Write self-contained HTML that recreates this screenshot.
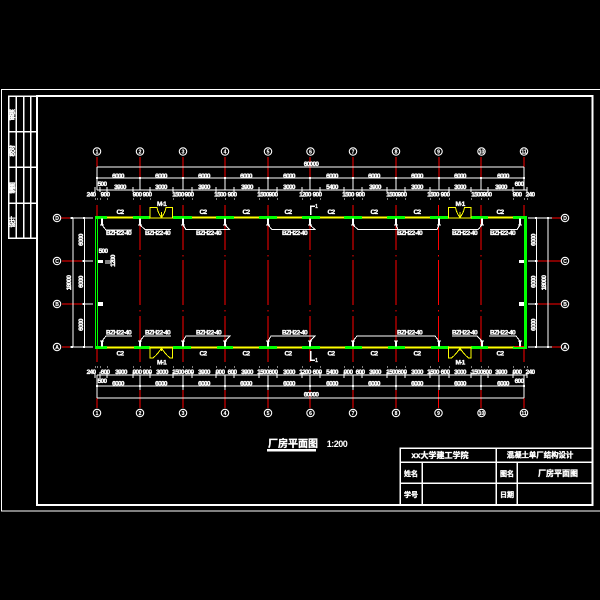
<!DOCTYPE html>
<html><head><meta charset="utf-8"><style>
html,body{margin:0;padding:0;background:#000}
svg{display:block}
path,rect{shape-rendering:crispEdges}
text{font-family:"Liberation Sans","Noto Sans CJK SC",sans-serif;fill:#fff}
.d{font-size:6.5px;font-weight:700;letter-spacing:-.7px;text-anchor:middle;stroke:#fff;stroke-width:.35}
.n{font-size:5px;text-anchor:middle;font-weight:700;stroke:#fff;stroke-width:.15}
.c{font-size:6.5px;font-weight:700;letter-spacing:-.6px;stroke:#fff;stroke-width:.35}
.t{font-size:9.5px;font-weight:700;text-anchor:middle;stroke:#fff;stroke-width:.35}
circle{fill:#000;stroke:#fff;stroke-width:1.1}
</style></head><body>
<svg width="600" height="600" viewBox="0 0 600 600" xmlns="http://www.w3.org/2000/svg">
<rect width="600" height="600" fill="#000"/>
<!-- frames -->
<path d="M1.5 600M600 89.500H1.500V511H600" fill="none" stroke="#fff" stroke-width="1"/>
<path d="M37 505V96H592.500V505Z" fill="none" stroke="#fff" stroke-width="2"/>
<path d="M37 96H8.500V238H37M16 96V238M23.500 96V238M30.500 96V238M8.500 131.500H37M8.500 167H37M8.500 203H37" fill="none" stroke="#fff" stroke-width="1.500"/>
<text class="c" style="font-size:6px" transform="rotate(-90 14.500 114)" x="8" y="114">审核</text>
<text class="c" style="font-size:6px" transform="rotate(-90 14.500 150)" x="8" y="150">校对</text>
<text class="c" style="font-size:6px" transform="rotate(-90 14.500 187)" x="8" y="187">制图</text>
<text class="c" style="font-size:6px" transform="rotate(-90 14.500 221)" x="8" y="221">设计</text>

<!-- red grid -->
<g stroke="#f00" stroke-width="1.100" fill="none">
<path d="M97 157V167M140 157V178M183 157V178M225 157V178M268 157V178M310 157V178M353 157V178M396 157V178M439 157V178M481 157V178M524 157V167"/>
<path d="M97 205V216M524 205V216M97 348V362M524 348V362M97 398V408M524 398V408"/>
<path d="M140 205V250M140 255V256.500M140 260V305M140 310V311.500M140 316V362M140 390V408"/>
<path d="M183 205V250M183 255V256.500M183 260V305M183 310V311.500M183 316V362M183 390V408"/>
<path d="M225 205V250M225 255V256.500M225 260V305M225 310V311.500M225 316V362M225 390V408"/>
<path d="M268 205V250M268 255V256.500M268 260V305M268 310V311.500M268 316V362M268 390V408"/>
<path d="M310 218V250M310 255V256.500M310 260V305M310 310V311.500M310 316V362M310 390V408"/>
<path d="M353 205V250M353 255V256.500M353 260V305M353 310V311.500M353 316V362M353 390V408"/>
<path d="M396 205V250M396 255V256.500M396 260V305M396 310V311.500M396 316V362M396 390V408"/>
<path d="M438.500 205V250M438.500 255V256.500M438.500 260V305M438.500 310V311.500M438.500 316V362M438.500 390V408"/>
<path d="M481 205V250M481 255V256.500M481 260V305M481 310V311.500M481 316V362M481 390V408"/>
<path d="M61 218H70M62 261H82M62 304H82M62 347H70M552 218H561M538 261H561M538 304H561M552 347H561"/>
</g>

<!-- dimension lines -->
<g stroke="#fff" stroke-width="1" fill="none">
<path d="M97 167H524M97 178H524M97 190H527M97 375H527M97 386H524M97 398H524"/>
<path d="M97 167V190M524 167V190M140 178V190M183 178V190M225 178V190M268 178V190M310 178V190M353 178V190M396 178V190M439 178V190M481 178V190"/>
<path d="M97 375V398M524 375V398M140 375V390M183 375V390M225 375V390M268 375V390M310 375V390M353 375V390M396 375V390M439 375V390M481 375V390"/>
<path d="M95 187v5M100 187v5M107 187v5M133 187v5M150 187v5M173 187v5M192 187v5M216 187v5M234 187v5M259 187v5M277 187v5M302 187v5M320 187v5M344 187v5M362 187v5M387 187v5M405 187v5M430 187v5M449 187v5M471 187v5M488 187v5M513 187v5M527 187v5"/>
<path d="M95 372v6M100 372v6M107 372v6M133 372v6M150 372v6M173 372v6M192 372v6M216 372v6M234 372v6M259 372v6M277 372v6M302 372v6M320 372v6M344 372v6M362 372v6M387 372v6M405 372v6M430 372v6M449 372v6M471 372v6M488 372v6M513 372v6M527 372v6"/>
<path d="M95 199h1M97 199h1M100 199h1M107 199h1M133 199h1M140 199h1M150 199h1M173 199h1M183 199h1M192 199h1M216 199h1M225 199h1M234 199h1M259 199h1M268 199h1M277 199h1M302 199h1M310 199h1M320 199h1M344 199h1M353 199h1M362 199h1M387 199h1M396 199h1M405 199h1M430 199h1M439 199h1M449 199h1M471 199h1M481 199h1M488 199h1M513 199h1M524 199h1M527 199h1"/>
<path d="M95 367h1M97 367h1M100 367h1M107 367h1M133 367h1M140 367h1M150 367h1M173 367h1M183 367h1M192 367h1M216 367h1M225 367h1M234 367h1M259 367h1M268 367h1M277 367h1M302 367h1M310 367h1M320 367h1M344 367h1M353 367h1M362 367h1M387 367h1M396 367h1M405 367h1M430 367h1M439 367h1M449 367h1M471 367h1M481 367h1M488 367h1M513 367h1M524 367h1M527 367h1"/>
<path d="M73 218V347M84.500 218V347M536.700 218V347M548 218V347"/>
<path d="M70 218H93M82 261H93M82 304H93M70 347H93M528 218H552M528 261H538M528 304H538M528 347H552"/>
<path d="M105 261H113M105 263H112"/>
</g>
<g stroke="#fff" stroke-width="2" fill="none">
<path d="M97 177v2M140 177v2M183 177v2M225 177v2M268 177v2M310 177v2M353 177v2M396 177v2M439 177v2M481 177v2M524 177v2M140 385v2M183 385v2M225 385v2M268 385v2M310 385v2M353 385v2M396 385v2M439 385v2M481 385v2M524 385v2M97 385v2"/>
<path d="M72 217v2M72 346v2M84 217v2M84 260v2M84 303v2M84 346v2M536 217v2M536 260v2M536 303v2M536 346v2M548 217v2M548 346v2"/>
</g>

<!-- walls -->
<path d="M107 217.500H513M107 347.500H513" stroke="#ff0" stroke-width="2" fill="none"/>
<g stroke="#0f0" stroke-width="3" fill="none">
<path d="M95 217.500H107M133 217.500H150M173 217.500H192M216 217.500H234M259 217.500H277M302 217.500H320M344 217.500H362M387 217.500H405M430 217.500H449M471 217.500H488M513 217.500H527"/>
<path d="M95 347.500H107M134 347.500H150M173 347.500H191M217 347.500H233M259 347.500H277M302 347.500H320M345 347.500H362M388 347.500H405M431 347.500H449M471 347.500H488M513 347.500H527"/>
<path d="M525.500 216V349"/>
</g>
<path d="M95.500 216V348M97.500 218V346" stroke="#0f0" stroke-width="1" fill="none"/>
<rect x="150.500" y="216" width="22" height="3" fill="#000"/><rect x="448.500" y="216" width="22" height="3" fill="#000"/>
<g stroke="#ff0" stroke-width="1" fill="none">
<path d="M150 218V207.500H157Q158 213 161.500 217.500Q165 213 166 207.500H172.700V218ZM161.500 217.500V212"/>
<path d="M448.500 218V207.500H455.500Q456.500 213 460 217.500Q463.500 213 464.500 207.500H471V218ZM460 217.500V212"/>
<path d="M150 347V358H153Q158 354 161.500 348Q165 354 170 358H172.700V347ZM161.500 348V351"/>
<path d="M448.500 347V358H451.500Q456.500 354 460 348Q463.500 354 468.500 358H471V347ZM460 348V351"/>
</g>
<path d="M514 346.500H524" stroke="#f00" stroke-width="1" fill="none"/>

<!-- columns -->
<g stroke="#fff" fill="none">
<path stroke-width="2" d="M102 218.500v6.500M140 218.500v6.500M183 218.500v6.500M225 218.500v6.500M268 218.500v6.500M310 218.500v6.500M353 218.500v6.500M396 218.500v6.500M439 218.500v6.500M482 218.500v6.500M520 218.500v6.500M102 340.500v6M140 340.500v6M183 340.500v6M225 340.500v6M268 340.500v6M310 340.500v6M353 340.500v6M396 340.500v6M439 340.500v6M482 340.500v6M520 340.500v6"/>
<path stroke-width="1.200" d="M100 225h4M138 225h4M181 225h4M223 225h4M266 225h4M308 225h4M351 225h4M394 225h4M437 225h4M480 225h4M518 225h4M100 341h4M138 341h4M181 341h4M223 341h4M266 341h4M308 341h4M351 341h4M394 341h4M437 341h4M480 341h4M518 341h4"/>
<path stroke-width="1" d="M102 225L106 230H132M140 225L145 229.500H171M183 225L186 229.500H229.500L225 225M268 225L272 229.500H315L310 225M353 225L358 229.500H437L439 225M396 225L398 229.500M452 229.500H478L482 225M490 229.500H517L520 225"/>
<path stroke-width="1" d="M102 341L106 336H132M140 341L144 336H171M183 341L186 336H230L225 341M268 341L271 336H315L310 341M353 341L357 336H435L439 341M452 336H477L482 341M489 336H516L520 341"/>
</g>
<g class="c">
<text class="c" x="106" y="235">BZH22-40</text><text class="c" x="145" y="235">BZH22-40</text><text class="c" x="196" y="235">BZH22-40</text><text class="c" x="282" y="235">BZH22-40</text><text class="c" x="397" y="235">BZH22-40</text><text class="c" x="452" y="235">BZH22-40</text><text class="c" x="490" y="235">BZH22-40</text>
<text class="c" x="106" y="334.500">BZH22-40</text><text class="c" x="145" y="334.500">BZH22-40</text><text class="c" x="196" y="334.500">BZH22-40</text><text class="c" x="282" y="334.500">BZH22-40</text><text class="c" x="397" y="334.500">BZH22-40</text><text class="c" x="452" y="334.500">BZH22-40</text><text class="c" x="490" y="334.500">BZH22-40</text>
</g>

<!-- door, wall labels -->
<text class="d" x="161.500" y="206">M-1</text><text class="d" x="460" y="206">M-1</text><text class="d" x="161.500" y="364.500">M-1</text><text class="d" x="460" y="364.500">M-1</text>
<g class="d">
<text class="d" x="120" y="214">C2</text><text class="d" x="203" y="214">C2</text><text class="d" x="246" y="214">C2</text><text class="d" x="288" y="214">C2</text><text class="d" x="331" y="214">C2</text><text class="d" x="374" y="214">C2</text><text class="d" x="417" y="214">C2</text><text class="d" x="500" y="214">C2</text>
<text class="d" x="120" y="355.500">C2</text><text class="d" x="203" y="355.500">C2</text><text class="d" x="246" y="355.500">C2</text><text class="d" x="288" y="355.500">C2</text><text class="d" x="331" y="355.500">C2</text><text class="d" x="374" y="355.500">C2</text><text class="d" x="417" y="355.500">C2</text><text class="d" x="500" y="355.500">C2</text>
</g>
<path d="M315 206H310.500V215M310.500 351V360H315" stroke="#fff" stroke-width="1.500" fill="none"/>
<text class="n" x="316.500" y="208">1</text><text class="n" x="316.500" y="362">1</text>

<!-- top dims -->
<text class="d" x="311" y="166">60000</text>
<text class="d" x="118" y="178">6000</text><text class="d" x="161" y="178">6000</text><text class="d" x="204" y="178">6000</text><text class="d" x="246" y="178">6000</text><text class="d" x="289" y="178">6000</text><text class="d" x="332" y="178">6000</text><text class="d" x="374" y="178">6000</text><text class="d" x="417" y="178">6000</text><text class="d" x="460" y="178">6000</text><text class="d" x="503" y="178">6000</text>
<text class="d" x="102" y="186">500</text><text class="d" x="519" y="186">600</text>
<text class="d" x="120" y="189">3900</text><text class="d" x="161" y="189">3000</text><text class="d" x="204" y="189">3900</text><text class="d" x="247" y="189">3900</text><text class="d" x="289" y="189">3000</text><text class="d" x="332" y="189">5400</text><text class="d" x="375" y="189">3900</text><text class="d" x="417" y="189">3000</text><text class="d" x="460" y="189">3000</text><text class="d" x="501" y="189">3900</text>
<text class="d" x="91" y="196.500">240</text><text class="d" x="105" y="196.500">900</text><text class="d" x="137" y="196.500">900</text><text class="d" x="147" y="196.500">900</text><text class="d" x="178" y="196.500">1500</text><text class="d" x="189" y="196.500">900</text><text class="d" x="220" y="196.500">1500</text><text class="d" x="232" y="196.500">900</text><text class="d" x="263" y="196.500">1500</text><text class="d" x="273" y="196.500">900</text><text class="d" x="305" y="196.500">1200</text><text class="d" x="317" y="196.500">900</text><text class="d" x="348" y="196.500">1500</text><text class="d" x="360" y="196.500">900</text><text class="d" x="392" y="196.500">1500</text><text class="d" x="402" y="196.500">900</text><text class="d" x="433" y="196.500">1500</text><text class="d" x="445" y="196.500">900</text><text class="d" x="477" y="196.500">1500</text><text class="d" x="487" y="196.500">900</text><text class="d" x="517" y="196.500">900</text><text class="d" x="530" y="196.500">240</text>

<!-- bottom dims -->
<text class="d" x="91" y="374">240</text><text class="d" x="105" y="374">600</text><text class="d" x="121" y="374">3900</text><text class="d" x="137" y="374">900</text><text class="d" x="147" y="374">900</text><text class="d" x="162" y="374">3000</text><text class="d" x="178" y="374">1500</text><text class="d" x="189" y="374">600</text><text class="d" x="204" y="374">3900</text><text class="d" x="220" y="374">900</text><text class="d" x="232" y="374">600</text><text class="d" x="247" y="374">3900</text><text class="d" x="263" y="374">1500</text><text class="d" x="273" y="374">600</text><text class="d" x="289" y="374">3000</text><text class="d" x="305" y="374">1200</text><text class="d" x="317" y="374">600</text><text class="d" x="332" y="374">5400</text><text class="d" x="348" y="374">900</text><text class="d" x="360" y="374">600</text><text class="d" x="375" y="374">3900</text><text class="d" x="392" y="374">1500</text><text class="d" x="402" y="374">600</text><text class="d" x="417" y="374">3000</text><text class="d" x="433" y="374">1500</text><text class="d" x="445" y="374">600</text><text class="d" x="460" y="374">3000</text><text class="d" x="477" y="374">1500</text><text class="d" x="487" y="374">600</text><text class="d" x="501" y="374">3900</text><text class="d" x="517" y="374">900</text><text class="d" x="530" y="374">240</text>
<text class="d" x="102" y="383">500</text><text class="d" x="519" y="383">600</text>
<text class="d" x="118" y="385.500">6000</text><text class="d" x="161" y="385.500">6000</text><text class="d" x="204" y="385.500">6000</text><text class="d" x="246" y="385.500">6000</text><text class="d" x="289" y="385.500">6000</text><text class="d" x="332" y="385.500">6000</text><text class="d" x="374" y="385.500">6000</text><text class="d" x="417" y="385.500">6000</text><text class="d" x="460" y="385.500">6000</text><text class="d" x="503" y="385.500">6000</text>
<text class="d" x="311" y="396.500">60000</text>

<!-- side dims -->
<text class="d" transform="rotate(-90 69 283)" x="69" y="285">18000</text>
<text class="d" transform="rotate(-90 81 240)" x="81" y="242">6000</text><text class="d" transform="rotate(-90 81 282)" x="81" y="284">6000</text><text class="d" transform="rotate(-90 81 325)" x="81" y="327">6000</text>
<text class="d" transform="rotate(-90 533.500 240)" x="533.500" y="242">6000</text><text class="d" transform="rotate(-90 533.500 282)" x="533.500" y="284">6000</text><text class="d" transform="rotate(-90 533.500 325)" x="533.500" y="327">6000</text>
<text class="d" transform="rotate(-90 544 283)" x="544" y="285">18000</text>
<text class="d" x="103" y="253">500</text>
<text class="d" transform="rotate(-90 113 261)" x="113" y="263">1200</text>
<rect x="98" y="260" width="5" height="3" fill="#fff"/><rect x="98" y="302" width="5" height="4" fill="#fff"/>
<rect x="519" y="260" width="5" height="3" fill="#fff"/><rect x="519" y="302" width="5" height="4" fill="#fff"/>

<!-- axis bubbles -->
<circle cx="97" cy="151.500" r="3.700"/><circle cx="140" cy="151.500" r="3.700"/><circle cx="183" cy="151.500" r="3.700"/><circle cx="225" cy="151.500" r="3.700"/><circle cx="268" cy="151.500" r="3.700"/><circle cx="310.500" cy="151.500" r="3.700"/><circle cx="353" cy="151.500" r="3.700"/><circle cx="396" cy="151.500" r="3.700"/><circle cx="438.500" cy="151.500" r="3.700"/><circle cx="481.500" cy="151.500" r="3.700"/><circle cx="524" cy="151.500" r="3.700"/>
<circle cx="97" cy="413" r="3.700"/><circle cx="140" cy="413" r="3.700"/><circle cx="183" cy="413" r="3.700"/><circle cx="225" cy="413" r="3.700"/><circle cx="268" cy="413" r="3.700"/><circle cx="310.500" cy="413" r="3.700"/><circle cx="353" cy="413" r="3.700"/><circle cx="396" cy="413" r="3.700"/><circle cx="438.500" cy="413" r="3.700"/><circle cx="481.500" cy="413" r="3.700"/><circle cx="524" cy="413" r="3.700"/>
<circle cx="57" cy="218" r="3.700"/><circle cx="57" cy="261" r="3.700"/><circle cx="57" cy="304" r="3.700"/><circle cx="57" cy="347" r="3.700"/>
<circle cx="565" cy="218" r="3.700"/><circle cx="565" cy="261" r="3.700"/><circle cx="565" cy="304" r="3.700"/><circle cx="565" cy="347" r="3.700"/>
<text class="n" x="97" y="153.300">1</text><text class="n" x="140" y="153.300">2</text><text class="n" x="183" y="153.300">3</text><text class="n" x="225" y="153.300">4</text><text class="n" x="268" y="153.300">5</text><text class="n" x="310.500" y="153.300">6</text><text class="n" x="353" y="153.300">7</text><text class="n" x="396" y="153.300">8</text><text class="n" x="438.500" y="153.300">9</text><text class="n" x="481.500" y="153.300">10</text><text class="n" x="524" y="153.300">11</text>
<text class="n" x="97" y="414.800">1</text><text class="n" x="140" y="414.800">2</text><text class="n" x="183" y="414.800">3</text><text class="n" x="225" y="414.800">4</text><text class="n" x="268" y="414.800">5</text><text class="n" x="310.500" y="414.800">6</text><text class="n" x="353" y="414.800">7</text><text class="n" x="396" y="414.800">8</text><text class="n" x="438.500" y="414.800">9</text><text class="n" x="481.500" y="414.800">10</text><text class="n" x="524" y="414.800">11</text>
<text class="n" x="57" y="219.800">D</text><text class="n" x="57" y="262.800">C</text><text class="n" x="57" y="305.800">B</text><text class="n" x="57" y="348.800">A</text>
<text class="n" x="565" y="219.800">D</text><text class="n" x="565" y="262.800">C</text><text class="n" x="565" y="305.800">B</text><text class="n" x="565" y="348.800">A</text>

<!-- title -->
<text x="293" y="447" style="font-size:10px;font-weight:700;text-anchor:middle;stroke:#fff;stroke-width:.3">厂房平面图</text>
<rect x="267" y="449" width="49" height="2.500" fill="#fff"/>
<text x="337" y="447" style="font-size:9px;font-weight:700;text-anchor:middle;letter-spacing:-.5px">1:200</text>

<!-- title block -->
<path d="M400 505V448H592M400 462H592M400 483H592M496 448V505M422 462V505M517 462V505" fill="none" stroke="#fff" stroke-width="1.500"/>
<text class="t" style="font-size:8px" x="440" y="458">xx大学建工学院</text>
<text class="t" style="font-size:7.400px" x="540" y="457.500">混凝土单厂结构设计</text>
<text class="t" style="font-size:7px" x="411" y="476">姓名</text>
<text class="t" style="font-size:7px" x="411" y="497">学号</text>
<text class="t" style="font-size:7px" x="507" y="476">图名</text>
<text class="t" style="font-size:7px" x="507" y="497">日期</text>
<text class="t" style="font-size:8px" x="558" y="476">厂房平面图</text>
</svg>
</body></html>
